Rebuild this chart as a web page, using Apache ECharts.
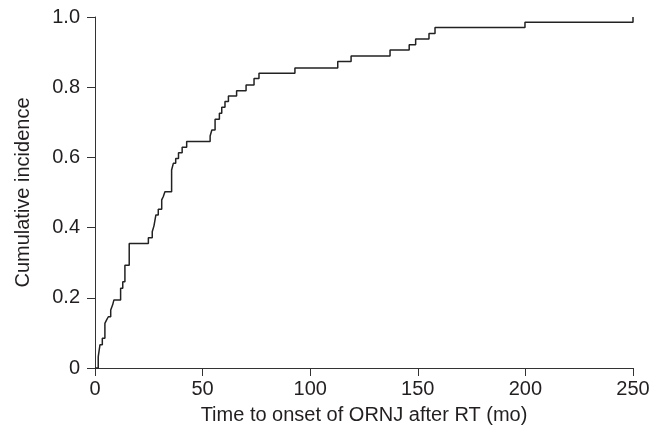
<!DOCTYPE html>
<html>
<head>
<meta charset="utf-8">
<script src="https://cdn.jsdelivr.net/npm/echarts@6/dist/echarts.min.js"></script>
<style>html,body{margin:0;padding:0;background:#fff}#c{width:664px;height:440px}</style>
</head>
<body>
<div id="c"></div>
<script>
// Event times (months) and cumulative incidence after each step
const times = [0, 1.5, 2.3, 3.4, 4.6, 5.4, 6.2, 7.3, 8.2, 8.8, 11.9, 12.9, 13.9, 15.9,
  24.8, 26.6, 27.4, 28.3, 29.4, 31.0, 31.7, 32.5, 35.6, 36.4, 37.5, 38.8, 40.5, 42.6,
  53.5, 54.3, 55.8, 57.8, 58.9, 60.4, 62.0, 65.8, 70.2, 73.9, 76.2, 92.9, 112.8, 119.0,
  137.1, 146.0, 149.0, 155.2, 158.0, 199.8, 250];
const incidence = [0, 0.032, 0.066, 0.085, 0.127, 0.137, 0.146, 0.165, 0.18, 0.194, 0.227, 0.246, 0.293, 0.355,
  0.371, 0.388, 0.405, 0.436, 0.452, 0.479, 0.488, 0.502, 0.564, 0.583, 0.597, 0.613, 0.629, 0.645,
  0.661, 0.678, 0.709, 0.726, 0.743, 0.759, 0.775, 0.79, 0.806, 0.825, 0.84, 0.855, 0.873, 0.889,
  0.906, 0.921, 0.937, 0.953, 0.97, 0.985, 1.0];
const xTicks = [0, 50, 100, 150, 200, 250];
const yTicks = ['0', '0.2', '0.4', '0.6', '0.8', '1.0'];

const font = 'Liberation Sans, Arial, Helvetica, sans-serif';
const ink = '#231f20';
const chart = echarts.init(document.getElementById('c'));
chart.setOption({
  animation: false,
  backgroundColor: '#fff',
  grid: {left: 95, right: 31, top: 17, bottom: 72},
  xAxis: {
    type: 'value', min: xTicks[0], max: xTicks[xTicks.length - 1], interval: 50,
    name: 'Time to onset of ORNJ after RT (mo)', nameLocation: 'middle', nameGap: 37,
    nameTextStyle: {fontFamily: font, fontSize: 20, color: ink},
    axisLine: {lineStyle: {color: '#333', width: 1}},
    axisTick: {inside: false, length: 8, lineStyle: {color: '#333'}},
    axisLabel: {fontFamily: font, fontSize: 20, color: ink, margin: 11},
    splitLine: {show: false}
  },
  yAxis: {
    type: 'value', min: 0, max: 1, interval: 0.2,
    name: 'Cumulative incidence', nameLocation: 'middle', nameGap: 62,
    nameTextStyle: {fontFamily: font, fontSize: 20, color: ink},
    axisLine: {show: true, lineStyle: {color: '#333', width: 1}},
    axisTick: {show: true, inside: false, length: 8, lineStyle: {color: '#333'}},
    axisLabel: {fontFamily: font, fontSize: 20, color: ink, margin: 15,
      formatter: v => yTicks[Math.round(v / 0.2)]},
    splitLine: {show: false}
  },
  series: [{
    type: 'line', step: 'end', showSymbol: false, symbol: 'none',
    lineStyle: {color: '#222', width: 1.5},
    data: times.map((t, i) => [t, incidence[i]])
  }]
});
</script>
</body>
</html>
